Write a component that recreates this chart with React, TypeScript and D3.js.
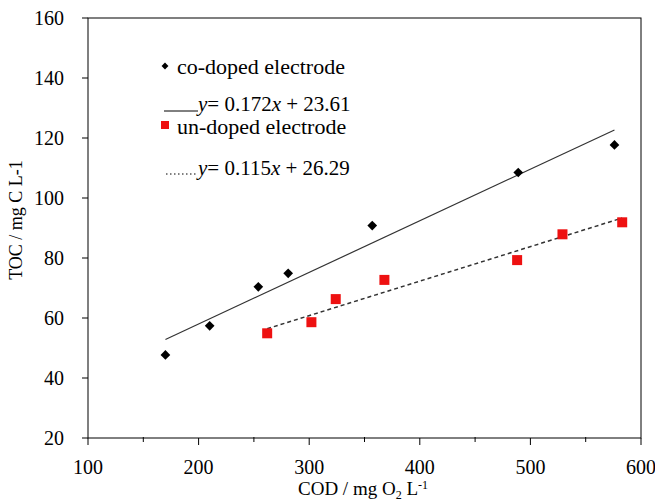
import React from "react";
import * as d3 from "d3";

// co-doped electrode (black diamonds)
const coDopedCOD = [170, 210, 254, 281, 357, 489, 576];
const coDopedTOC = [47.7, 57.4, 70.4, 74.9, 90.8, 108.5, 117.7];
// un-doped electrode (red squares)
const unDopedCOD = [262, 302, 324, 368, 488, 529, 583];
const unDopedTOC = [54.9, 58.6, 66.3, 72.7, 79.3, 87.9, 91.9];

// linear fits shown in the legend
const coSlope = 0.172, coIntercept = 23.61;
const unSlope = 0.115, unIntercept = 26.29;

const xTicks = [100, 200, 300, 400, 500, 600];
const xMinorTicks = [150, 250, 350, 450, 550];
const yTicks = [20, 40, 60, 80, 100, 120, 140, 160];

const FONT = "Liberation Serif, Times New Roman, serif";
const RED = "#ee1111";

const left = 88, right = 641, top = 18, bottom = 438;
const x = d3.scaleLinear().domain([100, 600]).range([left, right]);
const y = d3.scaleLinear().domain([20, 160]).range([bottom, top]);

const fitPath = (xs: number[], m: number, b: number) => {
  const ext = d3.extent(xs) as [number, number];
  return d3.line()(ext.map(v => [x(v), y(m * v + b)] as [number, number])) || "";
};

const diamondBig = d3.symbol().type(d3.symbolDiamond2).size(60)() || "";
const diamondSmall = d3.symbol().type(d3.symbolDiamond2).size(30)() || "";

function Equation({ px, py, m, b }: { px: number; py: number; m: number; b: number }) {
  return (
    <text x={px} y={py} fontFamily={FONT} fontSize={21} fill="#000">
      <tspan fontStyle="italic">y</tspan>
      <tspan>{`= ${m}`}</tspan>
      <tspan fontStyle="italic">x</tspan>
      <tspan>{` + ${b}`}</tspan>
    </text>
  );
}

export default function App() {
  return (
    <svg
      width={655}
      height={501}
      fontFamily={FONT}
      style={{ position: "absolute", left: 0, top: 0, background: "#fff", fontFamily: FONT }}
    >
      {/* frame */}
      <rect x={left} y={top} width={right - left} height={bottom - top} fill="none" stroke="#000" />

      {/* x ticks */}
      {xTicks.map(t => (
        <g key={"xt" + t}>
          <line x1={x(t)} x2={x(t)} y1={bottom} y2={bottom + 7} stroke="#000" />
          <text x={x(t)} y={bottom + 36} textAnchor="middle" fontFamily={FONT} fontSize={20} fill="#000">
            {t}
          </text>
        </g>
      ))}
      {xMinorTicks.map(t => (
        <line key={"xm" + t} x1={x(t)} x2={x(t)} y1={bottom - 1} y2={bottom + 4} stroke="#000" />
      ))}

      {/* y ticks */}
      {yTicks.map(t => (
        <g key={"yt" + t}>
          <line x1={left - 6} x2={left} y1={y(t)} y2={y(t)} stroke="#000" />
          <text x={64} y={y(t) + 7} textAnchor="end" fontFamily={FONT} fontSize={20} fill="#000">
            {t}
          </text>
        </g>
      ))}

      {/* fit lines */}
      <path d={fitPath(coDopedCOD, coSlope, coIntercept)} stroke="#333" strokeWidth={1.2} fill="none" />
      <path d={fitPath(unDopedCOD, unSlope, unIntercept)} stroke="#333" strokeWidth={1.5} fill="none" strokeDasharray="4,3" />

      {/* markers */}
      {coDopedCOD.map((c, i) => (
        <path key={"co" + i} d={diamondBig} transform={`translate(${x(c)}, ${y(coDopedTOC[i])})`} fill="#000" />
      ))}
      {unDopedCOD.map((c, i) => (
        <rect key={"un" + i} x={x(c) - 5} y={y(unDopedTOC[i]) - 5} width={10} height={10} fill={RED} />
      ))}

      {/* legend */}
      <path d={diamondSmall} transform="translate(165, 66)" fill="#000" />
      <text x={177} y={74} fontFamily={FONT} fontSize={22} fill="#000">co-doped electrode</text>
      <line x1={164} x2={198} y1={111} y2={111} stroke="#000" />
      <Equation px={198} py={111} m={coSlope} b={coIntercept} />

      <rect x={161} y={121} width={8} height={8} fill={RED} />
      <text x={177} y={134} fontFamily={FONT} fontSize={22} fill="#000">un-doped electrode</text>
      <line x1={166} x2={197} y1={174} y2={174} stroke="#000" strokeDasharray="1.5,2.5" />
      <Equation px={198} py={175} m={unSlope} b={unIntercept} />

      {/* axis titles */}
      <text x={363} y={495} textAnchor="middle" fontFamily={FONT} fontSize={19} fill="#000">
        <tspan>COD / mg O</tspan>
        <tspan fontSize={12} dy={4}>2</tspan>
        <tspan dy={-4}> L</tspan>
        <tspan fontSize={12} dy={-6}>-1</tspan>
      </text>
      <text transform="translate(22, 220) rotate(-90)" textAnchor="middle" fontFamily={FONT} fontSize={18} fill="#000">
        TOC / mg C L-1
      </text>
    </svg>
  );
}
